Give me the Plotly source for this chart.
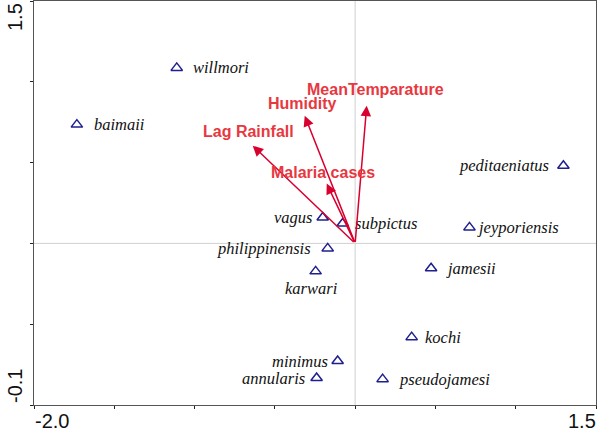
import plotly.graph_objects as go

# Species scores
species = ["willmori", "baimaii", "peditaeniatus", "jeyporiensis", "jamesii", "vagus",
           "subpictus", "philippinensis", "karwari", "kochi", "minimus", "annularis", "pseudojamesi"]
sp_x = [-1.111, -1.733, 1.297, 0.712, 0.473, -0.202, -0.078, -0.171, -0.246, 0.352, -0.109, -0.240, 0.171]
sp_y = [1.086, 0.735, 0.481, 0.099, -0.154, 0.160, 0.123, -0.031, -0.173, -0.580, -0.728, -0.833, -0.840]
# label side for each species: r=right, l=left, b=below
sp_side = ["r", "r", "l", "r", "r", "l", "r", "l", "b", "r", "l", "l", "r"]

# Environmental variable arrows
env = ["MeanTemparature", "Humidity", "Lag Rainfall", "Malaria cases"]
env_x = [0.072, -0.314, -0.638, -0.177]
env_y = [0.852, 0.790, 0.605, 0.370]

x_ticks = [-2.0, -1.5, -1.0, -0.5, 0.0, 0.5, 1.0, 1.5]
y_ticks = [-1.0, -0.5, 0.0, 0.5, 1.0, 1.5]
x_end_labels = ["-2.0", "1.5"]
y_end_labels = ["-0.1", "1.5"]

fig = go.Figure()

# crosshair
fig.add_shape(type="line", x0=0, x1=0, y0=-1.0, y1=1.5, line=dict(color="#d0d0d0", width=1), layer="below")
fig.add_shape(type="line", x0=-2.0, x1=1.5, y0=0, y1=0, line=dict(color="#d0d0d0", width=1), layer="below")

fig.add_trace(go.Scatter(
    x=sp_x, y=sp_y, mode="markers",
    marker=dict(symbol="triangle-up-open", size=10, color="#1f1f8f", line=dict(width=1.5, color="#1f1f8f")),
    hoverinfo="text", text=species, showlegend=False))

shift = {"willmori": 14, "baimaii": 15, "peditaeniatus": -12, "jeyporiensis": 6, "jamesii": 13,
         "vagus": -8, "subpictus": 10, "philippinensis": -15, "karwari": -4, "kochi": 11,
         "minimus": -8, "annularis": -10, "pseudojamesi": 14}
sp_font = dict(family="Liberation Serif", size=16.5, color="#111111")
for name, x, y, side in zip(species, sp_x, sp_y, sp_side):
    if side == "b":
        fig.add_annotation(x=x, y=y, text="<i>%s</i>" % name, showarrow=False, font=sp_font,
                           xanchor="center", yanchor="middle", xshift=shift[name], yshift=-17)
    else:
        fig.add_annotation(x=x, y=y, text="<i>%s</i>" % name, showarrow=False, font=sp_font,
                           xanchor="left" if side == "r" else "right", yanchor="middle",
                           xshift=shift[name], yshift=0)

# arrows
for name, x, y in zip(env, env_x, env_y):
    fig.add_annotation(x=x, y=y, ax=0, ay=0, xref="x", yref="y", axref="x", ayref="y",
                       text="", showarrow=True, arrowhead=2, arrowsize=1.4, arrowwidth=1.5,
                       arrowcolor="#d8002e")

env_shift = {"MeanTemparature": (9, 16), "Humidity": (-2, 12), "Lag Rainfall": (-4, 14), "Malaria cases": (-4, 11)}
for name, x, y in zip(env, env_x, env_y):
    dx, dy = env_shift[name]
    fig.add_annotation(x=x, y=y, text="<b>%s</b>" % name, showarrow=False,
                       font=dict(family="Liberation Sans", size=16, color="#e8383f"),
                       xanchor="center", yanchor="middle", xshift=dx, yshift=dy)

lab_font = dict(family="Liberation Sans", size=20, color="#111111")
fig.add_annotation(xref="paper", yref="paper", x=0, y=0, text=x_end_labels[0], showarrow=False,
                   font=lab_font, xanchor="left", yanchor="top", yshift=-3, xshift=-1)
fig.add_annotation(xref="paper", yref="paper", x=1, y=0, text=x_end_labels[1], showarrow=False,
                   font=lab_font, xanchor="right", yanchor="top", yshift=-3, xshift=2)
fig.add_annotation(xref="paper", yref="paper", x=0, y=1, text=y_end_labels[1], showarrow=False,
                   font=lab_font, textangle=-90, xanchor="right", yanchor="top", xshift=-6, yshift=0)
fig.add_annotation(xref="paper", yref="paper", x=0, y=0, text=y_end_labels[0], showarrow=False,
                   font=lab_font, textangle=-90, xanchor="right", yanchor="bottom", xshift=-6, yshift=0)

axis_common = dict(showgrid=False, zeroline=False, showline=True, linecolor="#555555", linewidth=1.3,
                   mirror=True, ticks="outside", ticklen=3, tickwidth=1, tickcolor="#222222",
                   showticklabels=False, fixedrange=True)
fig.update_xaxes(range=[-2.0, 1.5], tickvals=x_ticks, **axis_common)
fig.update_yaxes(range=[-1.0, 1.5], tickvals=y_ticks, **axis_common)

fig.update_layout(width=600, height=437, margin=dict(l=34, r=4, t=1, b=32),
                  plot_bgcolor="white", paper_bgcolor="white", showlegend=False)

fig.write_html("out.html", config={"displayModeBar": False})

# remove the default page margin so the figure sits at the window's corner
with open("out.html", "r", encoding="utf-8") as f:
    html = f.read()
html = html.replace("<body>", '<body style="margin:0;padding:0;overflow:hidden;">', 1)
with open("out.html", "w", encoding="utf-8") as f:
    f.write(html)
